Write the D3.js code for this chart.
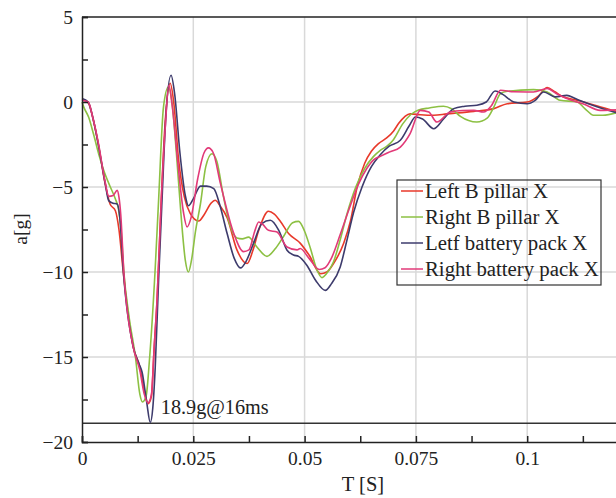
<!DOCTYPE html>
<html>
<head>
<meta charset="utf-8">
<script src="https://cdn.jsdelivr.net/npm/d3@7"></script>
<style>
  body { margin: 0; background: #fff; }
  svg { display: block; font-family: "Liberation Serif", "Times New Roman", serif; }
  .grid line { stroke: #d9d9d9; stroke-width: 1.5; }
  .axis path, .axis line { stroke: #222; stroke-width: 1.5; }
  .axis text { font-family: "Liberation Serif", serif; font-size: 19.5px; fill: #222; }
  .series { fill: none; stroke-width: 1.6; }
</style>
</head>
<body>
<div id="chart"></div>
<script>
// time in ms, acceleration in g
const leftBPillar = [
  [0.0, 0.15], [1.4, -0.05], [2.5, -1.0], [3.6, -2.4], [5.2, -4.8], [6.3, -6.0], [7.5, -6.4],
  [8.3, -7.5], [9.3, -10.1], [11.5, -14.4], [13.0, -15.6], [14.0, -17.0], [14.9, -17.74],
  [15.6, -17.3], [16.2, -14.5], [16.85, -11.7], [17.8, -5.8], [18.6, -1.5], [19.8, 1.1],
  [20.6, 0.0], [21.7, -3.4], [23.0, -5.6], [24.3, -6.55], [26.2, -7.0], [27.5, -6.6],
  [29.0, -5.95], [29.9, -5.78], [31.0, -6.1], [32.6, -6.8], [34.8, -8.7], [37.1, -9.5],
  [38.3, -8.8], [39.7, -7.55], [41.9, -6.43], [43.2, -6.6], [44.5, -7.0], [46.4, -7.74],
  [49.0, -8.3], [51.0, -9.0], [53.6, -10.1], [55.0, -10.0], [56.5, -9.5], [58.8, -8.3],
  [60.3, -7.0], [61.8, -5.0], [63.5, -3.6], [65.0, -2.9], [66.6, -2.45], [68.5, -2.1],
  [70.0, -1.7], [71.1, -1.27], [73.7, -0.7], [76.0, -0.75], [79.0, -0.78], [82.0, -0.7],
  [84.2, -0.65], [88.0, -0.55], [92.5, -0.39], [95.5, -0.1], [100.0, 0.0], [102.5, 0.35],
  [104.5, 0.85], [106.2, 0.6], [108.2, 0.29], [110.5, 0.15], [112.7, 0.0], [116.5, -0.3],
  [121.0, -0.62]
];

const rightBPillar = [
  [0.0, 0.0], [0.4, -0.3], [1.5, -0.9], [2.6, -1.9], [3.8, -3.1], [4.85, -4.0], [6.36, -5.0],
  [7.5, -5.7], [8.2, -6.3], [8.8, -7.6], [9.4, -10.0], [10.5, -12.5], [12.0, -15.0],
  [13.0, -17.2], [13.6, -17.65], [14.4, -17.3], [15.2, -15.0], [16.4, -10.0], [17.2, -5.8],
  [18.3, -0.3], [19.4, 0.88], [20.2, 0.0], [21.2, -3.0], [22.2, -6.5], [23.2, -9.3],
  [23.9, -10.0], [24.6, -9.3], [25.5, -7.6], [26.6, -6.0], [27.8, -3.8], [29.2, -3.04],
  [30.3, -3.5], [31.8, -5.6], [33.3, -7.3], [34.8, -8.0], [36.0, -8.05], [37.4, -7.95],
  [39.2, -8.5], [41.55, -9.08], [43.5, -8.6], [45.3, -7.9], [47.3, -7.1], [48.65, -7.02],
  [50.0, -7.6], [51.3, -8.6], [52.8, -9.9], [53.9, -10.33], [55.2, -10.0], [56.5, -9.4],
  [58.0, -8.1], [59.5, -6.6], [61.5, -5.0], [63.5, -3.9], [65.5, -3.2], [67.0, -2.84],
  [68.5, -2.6], [70.0, -2.2], [72.0, -1.3], [73.8, -0.75], [75.6, -0.47], [78.0, -0.35],
  [81.2, -0.25], [83.0, -0.4], [85.0, -0.85], [88.7, -1.18], [91.0, -0.95], [92.5, -0.3],
  [94.0, 0.49], [95.5, 0.63], [101.4, 0.73], [104.5, 0.59], [107.4, 0.1], [111.2, 0.0],
  [113.0, -0.4], [114.9, -0.78], [117.0, -0.78], [121.0, -0.55]
];

const leftBatteryPack = [
  [0.0, 0.2], [1.4, 0.0], [2.5, -1.0], [3.6, -2.4], [5.2, -4.78], [6.0, -5.8], [7.0, -5.95],
  [7.9, -6.0], [8.5, -6.8], [9.3, -10.0], [11.5, -14.4], [12.8, -15.4], [13.5, -15.9],
  [14.5, -17.6], [15.34, -18.85], [15.9, -18.0], [16.45, -15.6], [17.2, -10.5], [17.97, -5.8],
  [18.8, -1.0], [20.0, 1.57], [20.8, 0.5], [22.0, -3.0], [23.2, -5.5], [23.9, -6.1],
  [25.0, -5.7], [26.6, -4.95], [28.0, -4.95], [29.6, -5.1], [31.0, -6.1], [32.6, -7.74],
  [34.2, -9.2], [35.6, -9.76], [36.8, -9.4], [38.5, -8.33], [40.4, -7.15], [42.3, -6.96],
  [44.2, -7.55], [46.05, -8.72], [47.5, -9.0], [48.65, -9.08], [50.5, -9.6], [52.5, -10.5],
  [54.65, -11.08], [56.0, -10.7], [58.0, -9.7], [59.5, -8.14], [61.0, -6.5], [62.9, -5.0],
  [65.0, -3.8], [67.0, -3.1], [69.0, -2.6], [71.5, -2.25], [73.5, -1.4], [74.9, -0.88],
  [76.5, -1.0], [79.0, -1.57], [81.2, -1.0], [83.5, -0.39], [86.0, -0.25], [88.7, -0.19],
  [90.8, 0.0], [92.8, 0.65], [94.5, 0.45], [97.0, 0.0], [100.0, -0.1], [101.8, 0.1],
  [103.7, 0.59], [106.3, 0.3], [108.9, 0.39], [110.8, 0.2], [112.7, 0.0], [116.5, -0.35],
  [121.0, -0.7]
];

const rightBatteryPack = [
  [0.0, 0.1], [1.4, 0.0], [2.5, -1.0], [3.6, -2.3], [5.2, -4.7], [6.0, -5.55], [7.0, -5.5],
  [7.9, -5.2], [8.3, -5.6], [8.7, -6.6], [9.4, -10.0], [11.5, -14.4], [13.0, -15.8],
  [14.0, -17.2], [14.8, -17.7], [15.6, -17.2], [16.2, -14.5], [16.85, -11.7], [17.8, -5.8],
  [18.7, -1.5], [19.5, 0.98], [20.3, -0.3], [21.5, -3.5], [22.8, -6.5], [23.6, -7.35],
  [24.5, -6.8], [26.0, -4.5], [27.4, -3.0], [28.4, -2.7], [29.5, -3.0], [31.1, -4.8],
  [34.1, -7.74], [36.3, -8.8], [37.5, -8.7], [38.8, -7.6], [39.7, -7.06], [40.6, -7.2],
  [41.9, -7.55], [43.8, -7.65], [46.05, -8.53], [48.3, -8.7], [49.0, -8.62], [51.0, -9.2],
  [53.3, -9.85], [54.6, -9.75], [56.0, -9.2], [58.0, -7.8], [60.0, -6.3], [62.0, -4.9],
  [64.0, -3.9], [65.5, -3.4], [67.0, -3.2], [69.0, -2.95], [71.5, -2.65], [73.7, -1.86],
  [76.0, -0.49], [77.9, -0.59], [79.7, -1.18], [82.7, -0.59], [85.5, -0.5], [88.0, -0.49],
  [90.2, -0.59], [92.0, -0.2], [94.0, 0.69], [97.0, 0.6], [101.4, 0.59], [104.5, 0.79],
  [106.5, 0.5], [108.9, 0.2], [112.5, -0.1], [116.4, -0.49], [121.0, -0.45]
];

const seriesNames = ["Left B pillar X", "Right B pillar X", "Letf battery pack X", "Right battery pack X"];
const seriesColors = ["#e8392a", "#8cc043", "#3d3b6c", "#e23a78"];
const xTicks = [0, 0.025, 0.05, 0.075, 0.1];
const xMinorTicks = [0.0125, 0.0375, 0.0625, 0.0875, 0.1125];
const yTicks = [5, 0, -5, -10, -15, -20];
const yMinorTicks = [2.5, -2.5, -7.5, -12.5, -17.5];
const peakLevel = -18.9;
const peakLabel = "18.9g@16ms";

const MARGIN = { top: 17, left: 82 };
const width = 616, height = 498;
const innerW = 556.5, innerH = 425;

const svg = d3.select("#chart").append("svg").attr("width", width).attr("height", height);
const g = svg.append("g").attr("transform", `translate(${MARGIN.left},${MARGIN.top})`);

const x = d3.scaleLinear().domain([0, 0.125]).range([0, innerW]);
const y = d3.scaleLinear().domain([-20, 5]).range([innerH, 0]);

// grid
const grid = g.append("g").attr("class", "grid");
grid.selectAll("line.v").data(xTicks.filter(d => d > 0)).join("line")
  .attr("x1", d => x(d)).attr("x2", d => x(d)).attr("y1", 0).attr("y2", innerH);
grid.selectAll("line.h").data(yTicks.filter(d => d < 5 && d > -20)).join("line")
  .attr("class", "h")
  .attr("x1", 0).attr("x2", innerW).attr("y1", d => y(d)).attr("y2", d => y(d));

// peak reference line
g.append("line")
  .attr("x1", 0).attr("x2", innerW)
  .attr("y1", y(peakLevel)).attr("y2", y(peakLevel))
  .attr("stroke", "#333").attr("stroke-width", 1.5);

g.append("text")
  .attr("x", x(0.0177)).attr("y", y(peakLevel) - 9)
  .attr("font-size", 20.2).attr("fill", "#222")
  .text(peakLabel);

// series
const line = d3.line()
  .x(d => x(d[0] / 1000))
  .y(d => y(d[1]))
  .curve(d3.curveMonotoneX);

const allSeries = [leftBPillar, rightBPillar, leftBatteryPack, rightBatteryPack];
g.selectAll("path.series").data(allSeries).join("path")
  .attr("class", "series")
  .attr("stroke", (d, i) => seriesColors[i])
  .attr("d", line);

// frame + axes
g.append("line").attr("x1", 0).attr("x2", innerW).attr("y1", 0).attr("y2", 0)
  .attr("stroke", "#222").attr("stroke-width", 1.5);

g.append("g").attr("class", "axis").attr("transform", `translate(0,${innerH})`)
  .call(d3.axisBottom(x).tickValues(xTicks).tickSize(-6).tickPadding(9).tickFormat(d => String(d)));
g.append("g").attr("class", "axis").attr("transform", `translate(0,${innerH})`)
  .call(d3.axisBottom(x).tickValues(xMinorTicks).tickSize(-6).tickFormat(""))
  .select(".domain").remove();

g.append("g").attr("class", "axis")
  .call(d3.axisLeft(y).tickValues(yTicks).tickSize(-6).tickPadding(9).tickFormat(d3.format("d")));
g.append("g").attr("class", "axis")
  .call(d3.axisLeft(y).tickValues(yMinorTicks).tickSize(-6).tickFormat(""))
  .select(".domain").remove();

// axis titles
svg.append("text")
  .attr("x", 363).attr("y", 491)
  .attr("text-anchor", "middle").attr("font-size", 20.5).attr("fill", "#222")
  .text("T [S]");
svg.append("text")
  .attr("transform", "translate(27,229) rotate(-90)")
  .attr("text-anchor", "middle").attr("font-size", 19.5).attr("fill", "#222")
  .text("a[g]");

// legend
const legend = svg.append("g").attr("transform", "translate(397,180)");
legend.append("rect")
  .attr("width", 204).attr("height", 105)
  .attr("fill", "none").attr("stroke", "#333").attr("stroke-width", 1.2);
const rows = legend.selectAll("g.row").data(seriesNames).join("g")
  .attr("class", "row")
  .attr("transform", (d, i) => `translate(0,${11 + i * 26})`);
rows.append("line")
  .attr("x1", 4).attr("x2", 26).attr("y1", 0).attr("y2", 0)
  .attr("stroke", (d, i) => seriesColors[i]).attr("stroke-width", 1.5);
rows.append("text")
  .attr("x", 28).attr("y", 7)
  .attr("font-size", 20.8).attr("fill", "#222")
  .text(d => d);
</script>
</body>
</html>
